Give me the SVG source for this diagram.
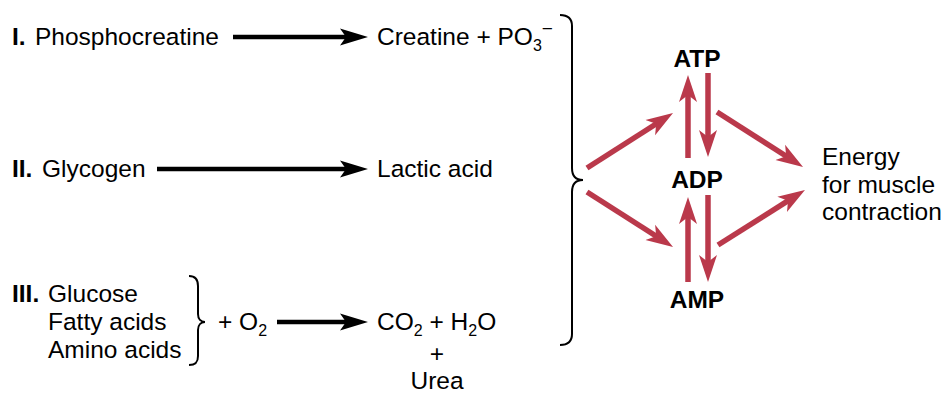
<svg xmlns="http://www.w3.org/2000/svg" width="949" height="402" viewBox="0 0 949 402">
<defs>
<style>
text{font-family:"Liberation Sans",Arial,sans-serif;font-size:24.5px;fill:#000}
.b{font-weight:bold}
.s{font-size:16px}
.m{font-size:19px}
.k{stroke:#000;stroke-width:4.5;fill:none}
.r{stroke:#ba394b;stroke-width:5.5;fill:none}
.br{stroke:#000;stroke-width:2;fill:none}
</style>
<marker id="ak" markerUnits="userSpaceOnUse" markerWidth="30" markerHeight="20" viewBox="0 -10 30 20" refX="10" refY="0" orient="auto">
<path d="M0,-8.5 L28,0 L0,8.5 L6,0 Z" fill="#000"/>
</marker>
<marker id="ar" markerUnits="userSpaceOnUse" markerWidth="30" markerHeight="20" viewBox="0 -10 30 20" refX="10" refY="0" orient="auto">
<path d="M0,-9 L27,0 L0,9 L7,0 Z" fill="#ba394b"/>
</marker>
</defs>
<rect width="949" height="402" fill="#fff"/>

<g id="row1">
<text x="12" y="45"><tspan class="b">I.</tspan><tspan x="35">Phosphocreatine</tspan></text>
</g>
<g id="creatine">
<text x="377" y="45">Creatine + PO<tspan class="s" dy="6">3</tspan><tspan class="m" dy="-16">−</tspan></text>
</g>
<g id="row2">
<text x="12" y="177"><tspan class="b">II.</tspan><tspan x="42">Glycogen</tspan></text>
</g>
<g id="lactic">
<text x="377" y="177">Lactic acid</text>
</g>
<g id="row3">
<text x="12" y="302" class="b">III.</text>
<text x="48" y="302">Glucose</text>
<text x="48" y="330">Fatty acids</text>
<text x="48" y="358">Amino acids</text>
<path class="br" d="M189,276 C196,276 198,280 198,286 L198,314 C198,319 201,322 205,322 C201,322 198,325 198,330 L198,356 C198,362 196,365 189,365"/>
<text x="218" y="330">+ O<tspan class="s" dy="6">2</tspan></text>
</g>
<g id="products3">
<text x="377" y="330">CO<tspan class="s" dy="6">2</tspan><tspan dy="-6"> + H</tspan><tspan class="s" dy="6">2</tspan><tspan dy="-6">O</tspan></text>
<text x="437" y="362" text-anchor="middle">+</text>
<text x="437" y="389" text-anchor="middle">Urea</text>
</g>
<g id="bigbracket">
<path class="br" d="M560,15 C568,15 572,18 572,26 L572,168 C572,176 576,180 583,180 C576,180 572,184 572,192 L572,334 C572,342 568,345 560,345"/>
</g>
<g id="atp"><text x="697" y="67" class="b" text-anchor="middle">ATP</text></g>
<g id="adp"><text x="697" y="188" class="b" text-anchor="middle">ADP</text></g>
<g id="amp"><text x="697" y="308" class="b" text-anchor="middle">AMP</text></g>
<g id="energy">
<text x="822" y="165">Energy</text>
<text x="822" y="192.5">for muscle</text>
<text x="822" y="220">contraction</text>
</g>

<g id="connectors">
<path class="k" d="M233,37 L350,37" marker-end="url(#ak)"/>
<path class="k" d="M157,169 L350,169" marker-end="url(#ak)"/>
<path class="k" d="M277,322 L350,322" marker-end="url(#ak)"/>
<path class="r" d="M587,168 L658.7,122.2" marker-end="url(#ar)"/>
<path class="r" d="M587,192 L658.7,237.8" marker-end="url(#ar)"/>
<path class="r" d="M688,158 L688,92" marker-end="url(#ar)"/>
<path class="r" d="M708,73 L708,140" marker-end="url(#ar)"/>
<path class="r" d="M688,282 L688,214" marker-end="url(#ar)"/>
<path class="r" d="M708,195 L708,265" marker-end="url(#ar)"/>
<path class="r" d="M717,112 L788.7,157.8" marker-end="url(#ar)"/>
<path class="r" d="M718,245 L790.6,199.1" marker-end="url(#ar)"/>
</g>
</svg>
